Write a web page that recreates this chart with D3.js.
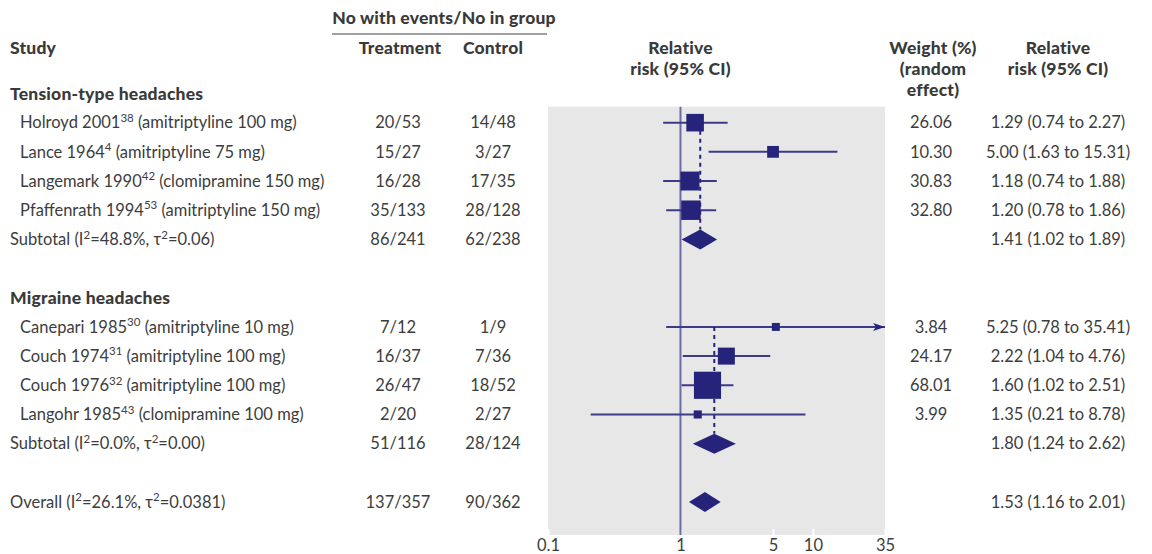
<!DOCTYPE html>
<html>
<head>
<meta charset="utf-8">
<script src="https://cdn.jsdelivr.net/npm/d3@7"></script>
<style>
  body { margin: 0; background: #fff; }
  svg text { font-family: Lato, "Noto Sans", sans-serif; fill: #3d3d3d; }
  .hdr { font-weight: 900; fill: #3a3a3a; letter-spacing: 0.2px; }
</style>
</head>
<body>
<svg id="chart" width="1152" height="554"></svg>
<script>
// ---- data ----
const groupNames = ["Tension-type headaches", "Migraine headaches"];
const studyGroup = [0, 0, 0, 0, 1, 1, 1, 1];
const studyNames = ["Holroyd 2001", "Lance 1964", "Langemark 1990", "Pfaffenrath 1994",
                    "Canepari 1985", "Couch 1974", "Couch 1976", "Langohr 1985"];
const studyRefs = ["38", "4", "42", "53", "30", "31", "32", "43"];
const studyDrugs = ["(amitriptyline 100 mg)", "(amitriptyline 75 mg)", "(clomipramine 150 mg)", "(amitriptyline 150 mg)",
                    "(amitriptyline 10 mg)", "(amitriptyline 100 mg)", "(amitriptyline 100 mg)", "(clomipramine 100 mg)"];
const treatment = ["20/53", "15/27", "16/28", "35/133", "7/12", "16/37", "26/47", "2/20"];
const control = ["14/48", "3/27", "17/35", "28/128", "1/9", "7/36", "18/52", "2/27"];
const rr = [1.29, 5.00, 1.18, 1.20, 5.25, 2.22, 1.60, 1.35];
const rrLow = [0.74, 1.63, 0.74, 0.78, 0.78, 1.04, 1.02, 0.21];
const rrHigh = [2.27, 15.31, 1.88, 1.86, 35.41, 4.76, 2.51, 8.78];
const weights = [26.06, 10.30, 30.83, 32.80, 3.84, 24.17, 68.01, 3.99];

const subLabels = ["Subtotal (I^2^=48.8%, τ^2^=0.06)", "Subtotal (I^2^=0.0%, τ^2^=0.00)"];
const subTreatment = ["86/241", "51/116"];
const subControl = ["62/238", "28/124"];
const subRR = [1.41, 1.80];
const subLow = [1.02, 1.24];
const subHigh = [1.89, 2.62];

const overallLabel = "Overall (I^2^=26.1%, τ^2^=0.0381)";
const overallTreatment = "137/357";
const overallControl = "90/362";
const overallRR = [1.53, 1.16, 2.01];

const axisTicks = [0.1, 1, 5, 10, 35];

// ---- layout ----
const svg = d3.select("#chart");
const navy = "#25237a";
const ciColor = "#3c3b88";
const col = {label: 10, study: 20, treat: 398, ctrl: 493, weight: 931, rr: 1058};

const x = d3.scaleLog().domain([0.1, 35]).range([548, 885]);
const y = d3.scaleLinear().domain([0, 14]).range([93.5, 502]);
const boxSize = d3.scaleSqrt().domain([0, 70]).range([2, 27.5]);
const fmt = d => d.toFixed(2);
const ciText = (m, l, h) => `${fmt(m)} (${fmt(l)} to ${fmt(h)})`;

// build row list
const rows = [];
let r = 0;
groupNames.forEach((g, gi) => {
  rows.push({type: "group", row: r++, label: g});
  const firstRow = r;
  studyGroup.forEach((sg, i) => {
    if (sg === gi) rows.push({type: "study", row: r++, i: i});
  });
  rows.push({type: "sub", row: r++, gi: gi, firstRow: firstRow});
  r++; // blank line
});
const overallRow = r;

// text helper: ^..^ marks superscript
const supShift = 6.5;
function richText(sel, str) {
  let shifted = false;
  str.split("^").forEach((part, k) => {
    if (!part) return;
    const t = sel.append("tspan").text(part);
    if (k % 2 === 1) {
      t.attr("dy", -supShift).attr("font-size", 11.5);
      shifted = true;
    } else if (shifted) {
      t.attr("dy", supShift);
      shifted = false;
    }
  });
}

const fs = 16.5;
const hfs = 17.5;
function txt(xp, yp, anchor, cls) {
  return svg.append("text").attr("x", xp).attr("y", yp).attr("dy", "0.35em")
    .attr("text-anchor", anchor).attr("font-size", cls ? hfs : fs).attr("class", cls || null);
}

// header
txt(444, 18, "middle", "hdr").text("No with events/No in group");
svg.append("line").attr("x1", 332).attr("x2", 547).attr("y1", 34).attr("y2", 34)
  .attr("stroke", "#444").attr("stroke-width", 1.2);
txt(col.label, 48, "start", "hdr").text("Study");
txt(col.treat + 2, 48, "middle", "hdr").text("Treatment");
txt(col.ctrl, 48, "middle", "hdr").text("Control");
txt(x(1), 48, "middle", "hdr").text("Relative");
txt(x(1), 69, "middle", "hdr").text("risk (95% CI)");
txt(col.weight + 2, 48, "middle", "hdr").text("Weight (%)");
txt(col.weight + 2, 69, "middle", "hdr").text("(random");
txt(col.weight + 2, 90, "middle", "hdr").text("effect)");
txt(col.rr, 48, "middle", "hdr").text("Relative");
txt(col.rr, 69, "middle", "hdr").text("risk (95% CI)");

// plot panel
const panelTop = y(1) - 16;
const panelBottom = y(overallRow) + 33;
svg.append("rect").attr("x", x(0.1)).attr("y", panelTop)
  .attr("width", x(35) - x(0.1)).attr("height", panelBottom - panelTop)
  .attr("fill", "#e7e7e7");

// axis with white ticks pointing up into the panel
const axis = svg.append("g").attr("transform", `translate(0,${panelBottom})`)
  .call(d3.axisBottom(x).tickValues(axisTicks).tickFormat(d => d).tickSize(-6).tickPadding(4));
axis.select(".domain").remove();
axis.selectAll(".tick line").attr("stroke", "#fff").attr("stroke-width", 2);
axis.selectAll(".tick text").attr("font-size", fs).attr("fill", "#3d3d3d")
  .attr("font-family", "Lato, 'Noto Sans', sans-serif");

// line of no effect
svg.append("line").attr("x1", x(1)).attr("x2", x(1))
  .attr("y1", panelTop).attr("y2", panelBottom)
  .attr("stroke", "#6c6ba8").attr("stroke-width", 2);

function diamond(yc, m, l, h) {
  const hh = 10;
  svg.append("path")
    .attr("d", `M${x(l)},${yc}L${x(m)},${yc - hh}L${x(h)},${yc}L${x(m)},${yc + hh}Z`)
    .attr("fill", navy);
}

rows.forEach(d => {
  const yc = y(d.row);
  if (d.type === "group") {
    txt(col.label, yc, "start", "hdr").text(d.label);
  } else if (d.type === "study") {
    const i = d.i;
    richText(txt(col.study, yc, "start"), `${studyNames[i]}^${studyRefs[i]}^ ${studyDrugs[i]}`);
    txt(col.treat, yc, "middle").text(treatment[i]);
    txt(col.ctrl, yc, "middle").text(control[i]);
    txt(col.weight, yc, "middle").text(fmt(weights[i]));
    txt(col.rr, yc, "middle").text(ciText(rr[i], rrLow[i], rrHigh[i]));

    const clipped = rrHigh[i] > x.domain()[1];
    const xr = clipped ? x.range()[1] : x(rrHigh[i]);
    svg.append("line").attr("x1", x(rrLow[i])).attr("x2", xr)
      .attr("y1", yc).attr("y2", yc).attr("stroke", ciColor).attr("stroke-width", 2);
    if (clipped) {
      svg.append("path")
        .attr("d", `M${xr},${yc}L${xr - 12},${yc - 4}L${xr - 9},${yc}L${xr - 12},${yc + 4}Z`)
        .attr("fill", navy);
    }
    const s = boxSize(weights[i]);
    svg.append("rect").attr("x", x(rr[i]) - s / 2).attr("y", yc - s / 2)
      .attr("width", s).attr("height", s).attr("fill", navy);
  } else if (d.type === "sub") {
    const gi = d.gi;
    richText(txt(col.label, yc, "start"), subLabels[gi]);
    txt(col.treat, yc, "middle").text(subTreatment[gi]);
    txt(col.ctrl, yc, "middle").text(subControl[gi]);
    txt(col.rr, yc, "middle").text(ciText(subRR[gi], subLow[gi], subHigh[gi]));
    // dashed line at pooled estimate
    svg.append("line").attr("x1", x(subRR[gi])).attr("x2", x(subRR[gi]))
      .attr("y1", y(d.firstRow)).attr("y2", yc - 10)
      .attr("stroke", navy).attr("stroke-width", 2).attr("stroke-dasharray", "4,4");
    diamond(yc, subRR[gi], subLow[gi], subHigh[gi]);
  }
});

// overall
const yo = y(overallRow);
richText(txt(col.label, yo, "start"), overallLabel);
txt(col.treat, yo, "middle").text(overallTreatment);
txt(col.ctrl, yo, "middle").text(overallControl);
txt(col.rr, yo, "middle").text(ciText(overallRR[0], overallRR[1], overallRR[2]));
diamond(yo, overallRR[0], overallRR[1], overallRR[2]);
</script>
</body>
</html>
